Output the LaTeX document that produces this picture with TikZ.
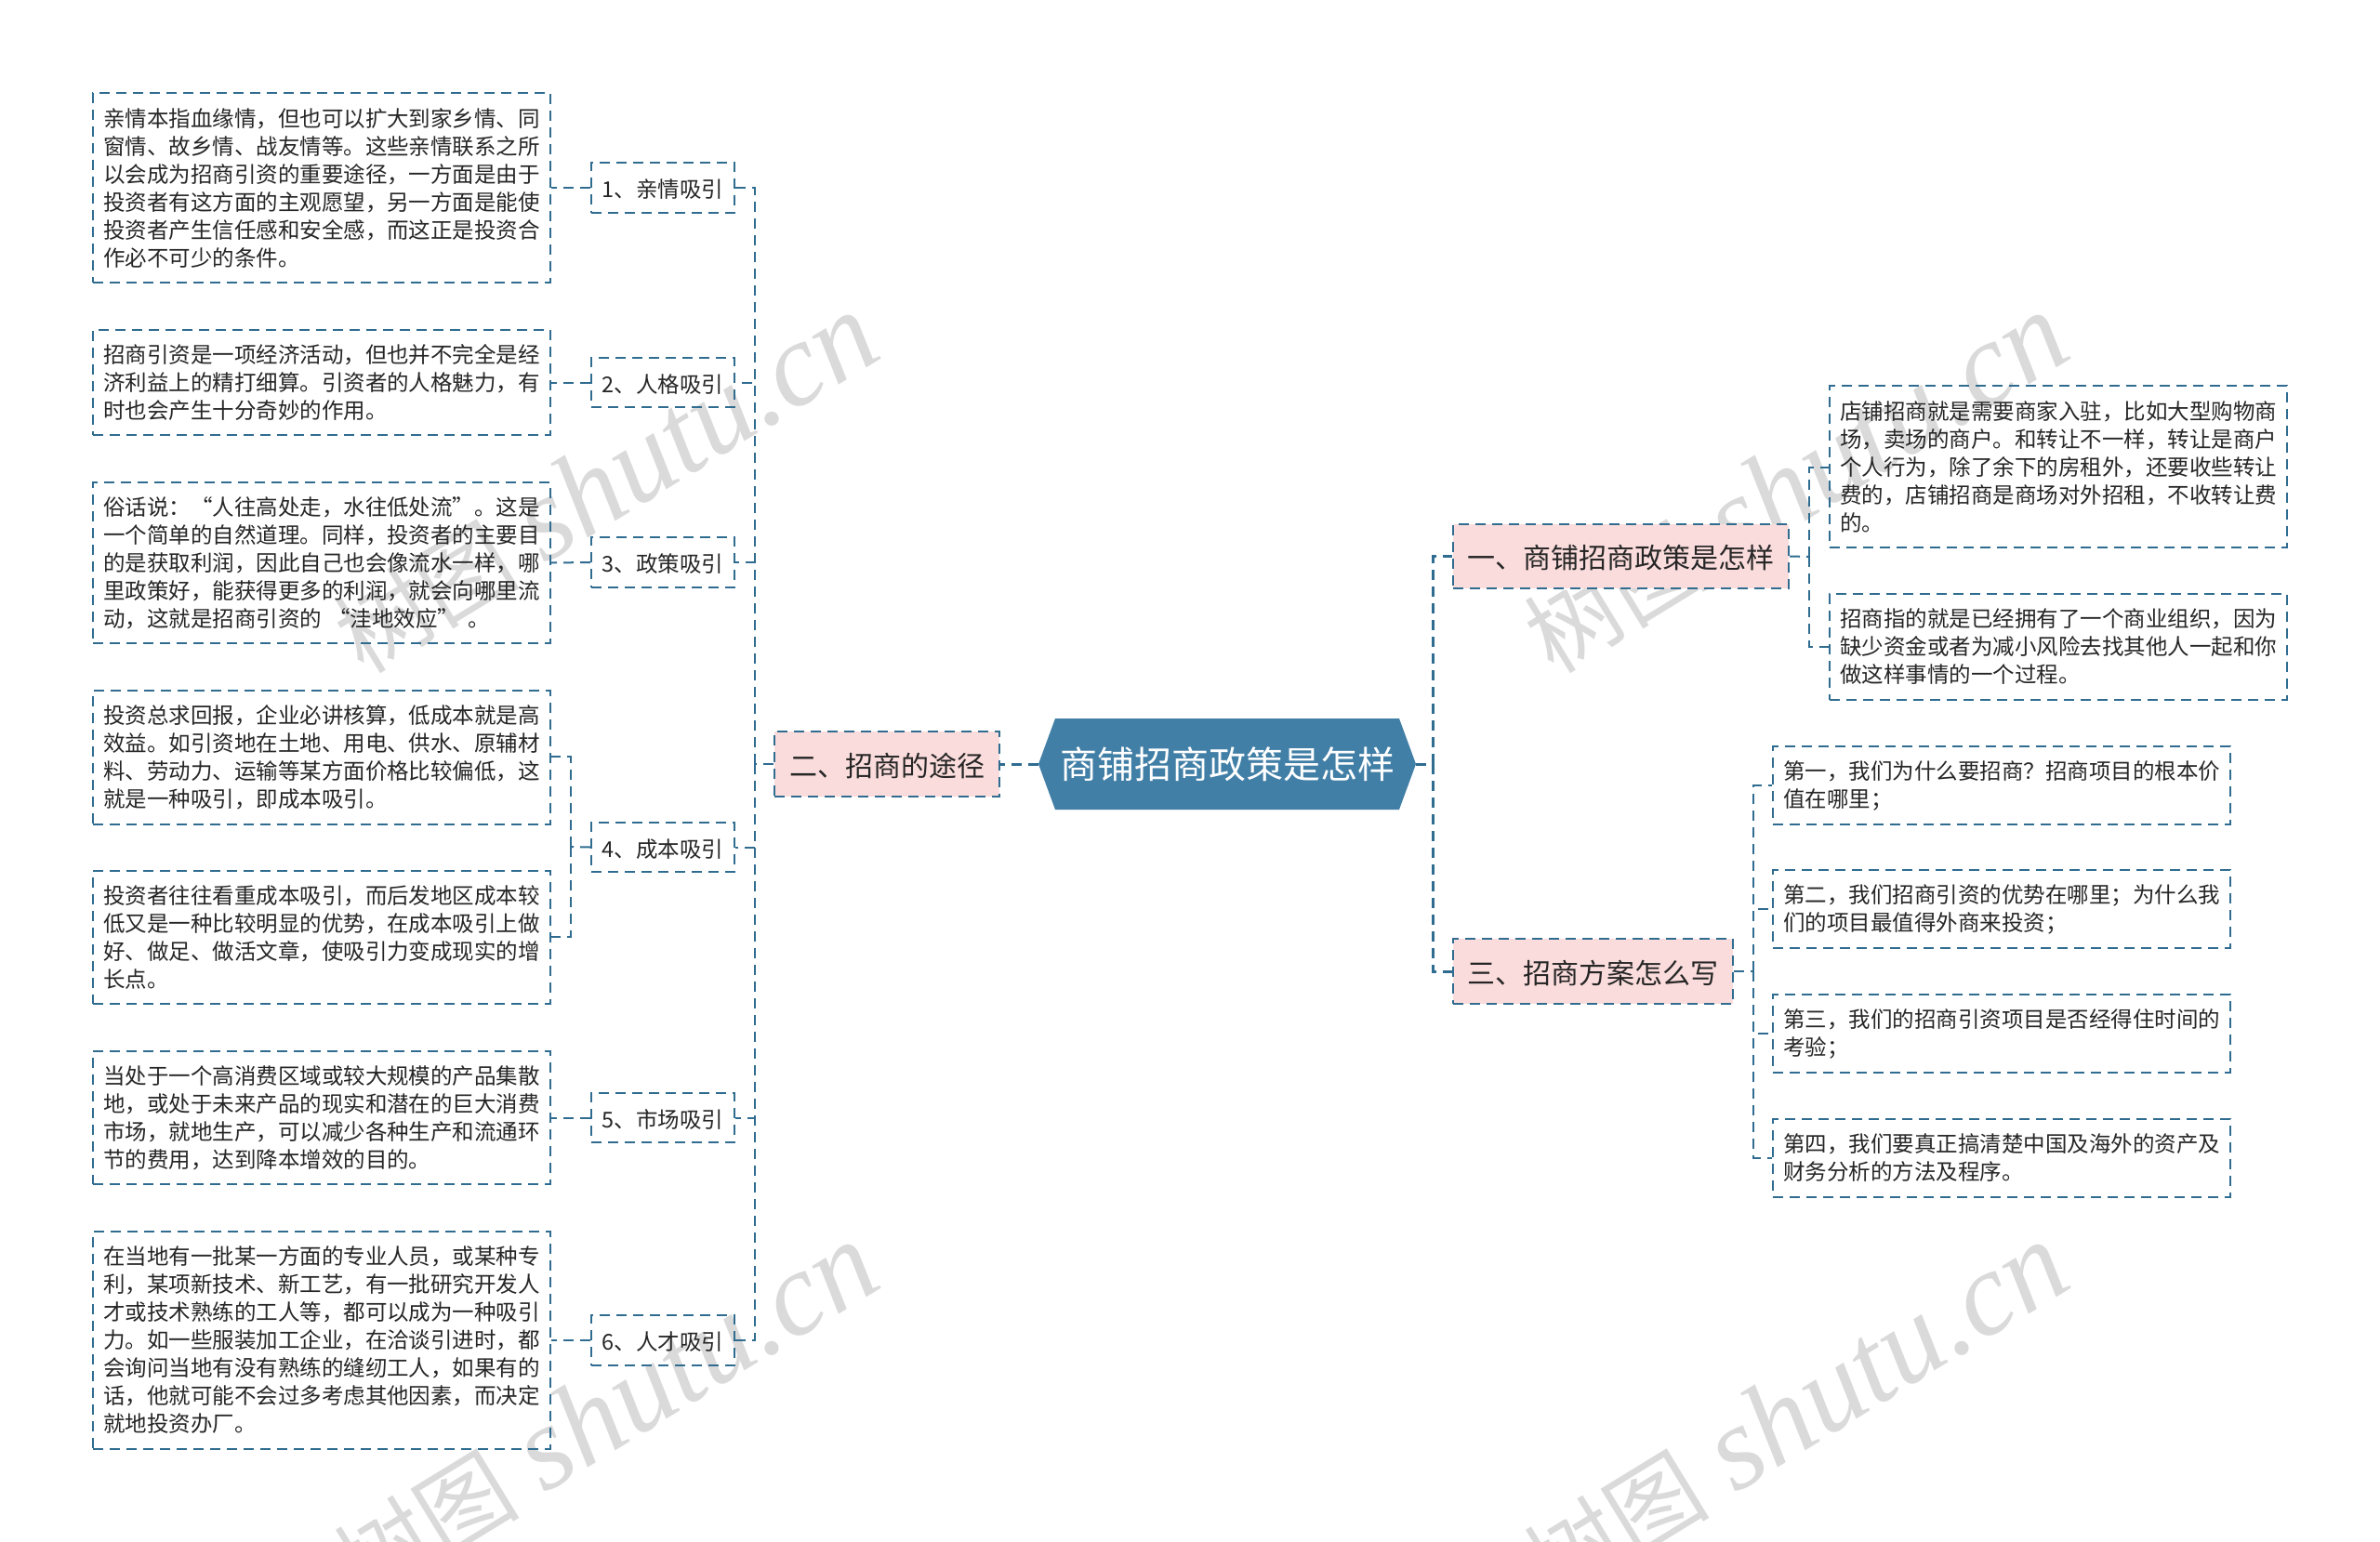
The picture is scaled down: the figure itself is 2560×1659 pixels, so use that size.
\documentclass[tikz,border=0pt]{standalone}
\usepackage{fontspec}
\setmainfont{Noto Sans CJK SC}
\newfontfamily\wmlatin{Liberation Serif}
\usetikzlibrary{calc}
\definecolor{linec}{HTML}{2F6C90}
\definecolor{rootc}{HTML}{417FA6}
\definecolor{pinkc}{HTML}{FBDCDC}
\definecolor{textc}{HTML}{262626}
\definecolor{wmc}{HTML}{DADADA}
\tikzset{
  x=0.5pt,y=-0.5pt,
  dashline/.style={draw=linec,line width=1pt,dash pattern=on 5.5pt off 3.5pt},
  thickline/.style={draw=linec,line width=1.5pt,dash pattern=on 5.5pt off 3.5pt},
  bodytext/.style={font=\fontsize{11.75}{15}\selectfont,text=textc,align=left,inner sep=0pt,execute at begin node={\rule{0pt}{15pt}}},
  leaf/.style={dashline,bodytext,inner sep=0pt},
  tagbox/.style={dashline,font=\fontsize{11.75}{15}\selectfont,text=textc,inner sep=0pt,execute at begin node={\rule{0pt}{11.6pt}}},
  branch/.style={dashline,fill=pinkc,font=\fontsize{15}{18}\selectfont,text=textc,inner sep=0pt,execute at begin node={\rule{0pt}{14.6pt}}},
  wmark/.style={text=wmc,font=\fontsize{64}{70}\selectfont,rotate=31.5,anchor=east,inner sep=0pt},
}
\newcommand\bx[7]{\node[#2,minimum width={(#5-#3)*0.5pt},minimum height={(#6-#4)*0.5pt}] (#1) at ({(#3+#5)/2},{(#4+#6)/2}) {#7};}
\newcommand\wm[3]{\node[wmark] (#1) at (#2,#3) {{\fontsize{50}{60}\selectfont 树图} {\wmlatin\itshape shutu.cn}};}
\begin{document}
\begin{tikzpicture}
\useasboundingbox (0,0) rectangle (2560,1659);
\fill[white] (0,0) rectangle (2560,1659);
\begin{scope}
\clip (0,0) rectangle (2560,1659);
\wm{wma}{932}{348}
\wm{wmb}{2212}{348}
\wm{wmc}{932}{1348}
\wm{wmd}{2212}{1348}
\end{scope}

\bx{aone}{leaf}{100}{100}{592}{304}{亲情本指血缘情，但也可以扩大到家乡情、同\\窗情、故乡情、战友情等。这些亲情联系之所\\以会成为招商引资的重要途径，一方面是由于\\投资者有这方面的主观愿望，另一方面是能使\\投资者产生信任感和安全感，而这正是投资合\\作必不可少的条件。}
\bx{atwo}{leaf}{100}{355}{592}{468}{招商引资是一项经济活动，但也并不完全是经\\济利益上的精打细算。引资者的人格魅力，有\\时也会产生十分奇妙的作用。}
\bx{athree}{leaf}{100}{519}{592}{692}{\makebox[235pt][s]{俗话说：\hfil“人往高处走，水往低处流”\hfil。这是}\\一个简单的自然道理。同样，投资者的主要目\\的是获取利润，因此自己也会像流水一样，哪\\里政策好，能获得更多的利润，就会向哪里流\\\makebox[235pt][l]{动，这就是招商引资的\hspace{0.3em}“洼地效应”\hspace{0.4em}。}}
\bx{afoura}{leaf}{100}{743}{592}{887}{投资总求回报，企业必讲核算，低成本就是高\\效益。如引资地在土地、用电、供水、原辅材\\料、劳动力、运输等某方面价格比较偏低，这\\就是一种吸引，即成本吸引。}
\bx{afourb}{leaf}{100}{937}{592}{1080}{投资者往往看重成本吸引，而后发地区成本较\\低又是一种比较明显的优势，在成本吸引上做\\好、做足、做活文章，使吸引力变成现实的增\\长点。}
\bx{afive}{leaf}{100}{1131}{592}{1274}{当处于一个高消费区域或较大规模的产品集散\\地，或处于未来产品的现实和潜在的巨大消费\\市场，就地生产，可以减少各种生产和流通环\\节的费用，达到降本增效的目的。}
\bx{asix}{leaf}{100}{1325}{592}{1559}{在当地有一批某一方面的专业人员，或某种专\\利，某项新技术、新工艺，有一批研究开发人\\才或技术熟练的工人等，都可以成为一种吸引\\力。如一些服装加工企业，在洽谈引进时，都\\会询问当地有没有熟练的缝纫工人，如果有的\\话，他就可能不会过多考虑其他因素，而决定\\就地投资办厂。}

\bx{tone}{tagbox}{636}{175}{790}{229}{1、亲情吸引}
\bx{ttwo}{tagbox}{636}{385}{790}{438}{2、人格吸引}
\bx{tthree}{tagbox}{636}{578}{790}{632}{3、政策吸引}
\bx{tfour}{tagbox}{636}{885}{790}{938}{4、成本吸引}
\bx{tfive}{tagbox}{636}{1176}{790}{1229}{5、市场吸引}
\bx{tsix}{tagbox}{636}{1415}{790}{1469}{6、人才吸引}

\bx{btwo}{branch}{833}{787}{1075}{857}{二、招商的途径}
\bx{bone}{branch}{1563}{564}{1924}{633}{一、商铺招商政策是怎样}
\bx{bthree}{branch}{1563}{1010}{1864}{1080}{三、招商方案怎么写}

\bx{cone}{leaf}{1968}{415}{2460}{589}{店铺招商就是需要商家入驻，比如大型购物商\\场，卖场的商户。和转让不一样，转让是商户\\个人行为，除了余下的房租外，还要收些转让\\费的，店铺招商是商场对外招租，不收转让费\\的。}
\bx{ctwo}{leaf}{1968}{639}{2460}{753}{招商指的就是已经拥有了一个商业组织，因为\\缺少资金或者为减小风险去找其他人一起和你\\做这样事情的一个过程。}

\bx{done}{leaf}{1907}{803}{2399}{887}{第一，我们为什么要招商？招商项目的根本价\\值在哪里；}
\bx{dtwo}{leaf}{1907}{936}{2399}{1020}{第二，我们招商引资的优势在哪里；为什么我\\们的项目最值得外商来投资；}
\bx{dthree}{leaf}{1907}{1070}{2399}{1154}{第三，我们的招商引资项目是否经得住时间的\\考验；}
\bx{dfour}{leaf}{1907}{1204}{2399}{1288}{第四，我们要真正搞清楚中国及海外的资产及\\财务分析的方法及程序。}

\fill[rootc] (1135,773) -- (1505,773) -- (1523,822) -- (1505,871) -- (1135,871) -- (1117,822) -- cycle;
\node[text=white,font=\fontsize{20}{24}\selectfont,minimum width=203pt,minimum height=48pt,inner sep=0pt] (root) at (1320,822) {商铺招商政策是怎样};

% connectors
\coordinate (spl) at (812,822);
\coordinate (spr) at (1541,822);
\coordinate (bra) at (614,911);
\coordinate (brc) at (1946,599);
\coordinate (brd) at (1886,1045);
\draw[thickline] (root.west) -- (btwo.east);
\draw[thickline] (root.east) -- (spr);
\draw[thickline] (spr) |- (bone.west);
\draw[thickline] (spr) |- (bthree.west);
\draw[dashline] (btwo.west) -- (spl);
\foreach \t in {tone,ttwo,tthree,tfour,tfive,tsix}{\draw[dashline] (spl) |- (\t.east);}
\draw[dashline] (tone.west) -- (aone.east);
\draw[dashline] (ttwo.west) -- (atwo.east);
\draw[dashline] (tthree.west) -- (athree.east);
\draw[dashline] (tfive.west) -- (afive.east);
\draw[dashline] (tsix.west) -- (asix.east);
\draw[dashline] (tfour.west) -- (bra);
\draw[dashline] (bra) |- ($(afoura.east)+(0,-1)$);
\draw[dashline] (bra) |- ($(afourb.north east)+(0,72)$);
\draw[dashline] (bone.east) -- (brc);
\draw[dashline] (brc) |- ($(cone.west)+(0,1)$);
\draw[dashline] (brc) |- (ctwo.west);
\draw[dashline] (bthree.east) -- (brd);
\draw[dashline] (brd) |- (done.west);
\draw[dashline] (brd) |- (dtwo.west);
\draw[dashline] (brd) |- (dthree.west);
\draw[dashline] (brd) |- (dfour.west);
\end{tikzpicture}
\end{document}
